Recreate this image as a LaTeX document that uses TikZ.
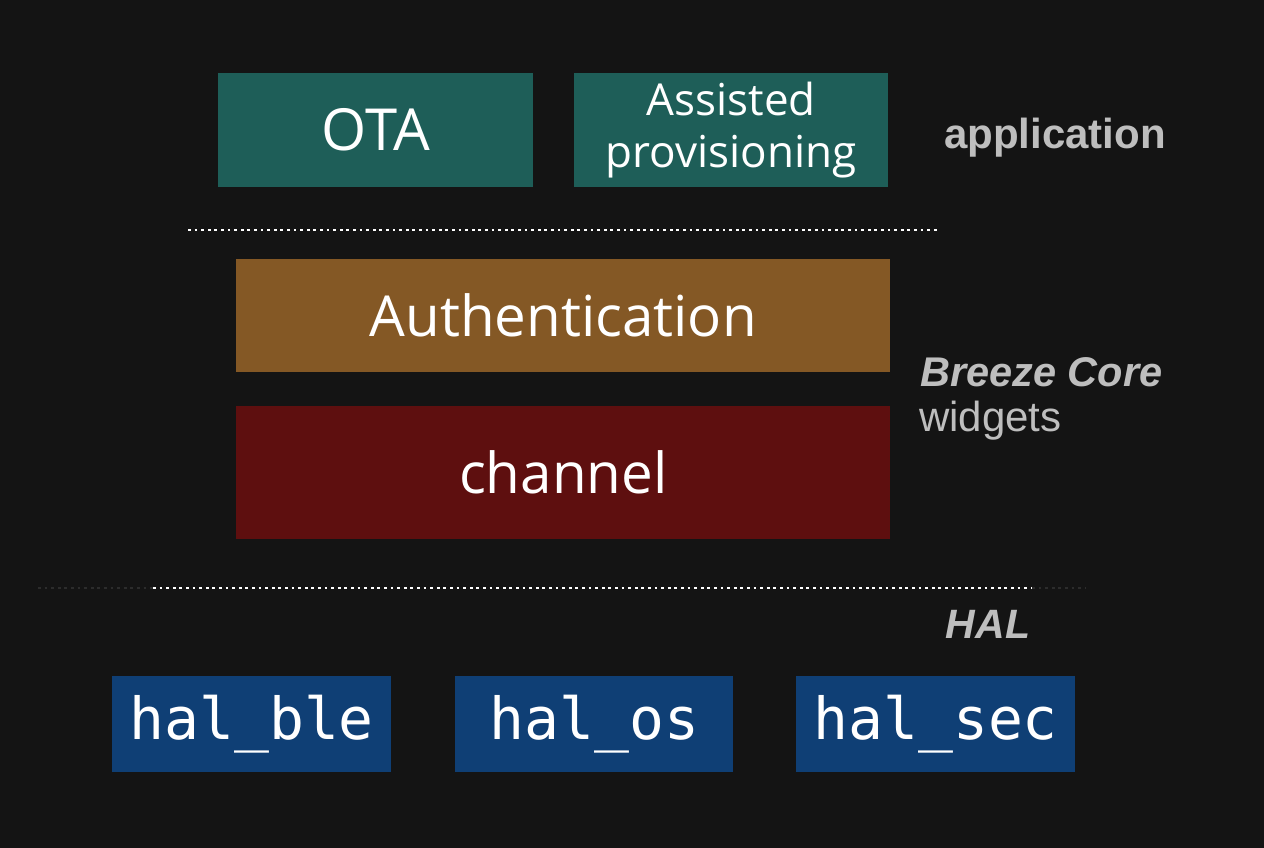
\documentclass[tikz,border=0pt]{standalone}
\usepackage{fontspec}
\setmainfont{Open Sans}
\newfontfamily\labfont{Liberation Sans}
\newfontfamily\monofont{DejaVu Sans Mono}
\definecolor{bgc}{HTML}{141414}
\definecolor{teal}{HTML}{1E5E58}
\definecolor{brownbox}{HTML}{845825}
\definecolor{redbox}{HTML}{5E0F0F}
\definecolor{bluebox}{HTML}{0F3F75}
\definecolor{labgray}{HTML}{BEBEBE}
\definecolor{faintdot}{HTML}{2C2C2C}
\begin{document}
\begin{tikzpicture}[x=1pt,y=-1pt,
  box/.style={anchor=north west,inner sep=0pt,text=white,align=center},
  dotline/.style={white,line width=2.8pt,dash pattern=on 2.8pt off 3.8pt},
  faintline/.style={faintdot,line width=2.8pt,dash pattern=on 2.8pt off 3.8pt},
  lab/.style={text=labgray,inner sep=0pt}]
\fill[bgc] (0,0) rectangle (1264,848);
\useasboundingbox (0,0) rectangle (1264,848);
% application layer
\node[box,fill=teal,minimum width=315pt,minimum height=114pt,font=\fontsize{58}{64}\selectfont] (ota) at (218,73) {OTA};
\node[box,fill=teal,minimum width=314pt,minimum height=114pt,font=\fontsize{44}{52}\selectfont] (ap) at (574,73) {Assisted\\provisioning};
\node[lab,font=\labfont\bfseries\fontsize{42}{46}\selectfont] (application) at (1055,138) {application};
% separator 1
\coordinate (s1a) at (188,230);
\coordinate (s1b) at (938,230);
\draw[dotline] (s1a) -- (s1b);
% core
\node[box,fill=brownbox,minimum width=654pt,minimum height=113pt,font=\fontsize{56.5}{62}\selectfont] (auth) at (236,259) {Authentication};
\node[box,fill=redbox,minimum width=654pt,minimum height=133pt,font=\fontsize{56.5}{62}\selectfont] (chan) at (236,406) {channel};
\node[lab,anchor=west,font=\labfont\bfseries\itshape\fontsize{41.5}{46}\selectfont] (breeze) at (920,372) {Breeze Core};
\node[lab,anchor=west,font=\labfont\fontsize{42}{46}\selectfont] (widgets) at (919,421) {widgets};
% separator 2
\coordinate (s2f) at (38,588);
\coordinate (s2a) at (153,588);
\coordinate (s2b) at (1032,588);
\coordinate (s2g) at (1085,588);
\draw[faintline] (s2f) -- (s2a);
\draw[faintline] (s2b) -- (s2g);
\draw[dotline] (s2a) -- (s2b);
\node[lab,font=\labfont\bfseries\itshape\fontsize{41}{46}\selectfont] (hal) at (988,624) {HAL};
% HAL boxes
\node[box,fill=bluebox,minimum width=279pt,minimum height=96pt,font=\monofont\fontsize{58}{64}\selectfont] (ble) at (112,676) {hal\_ble};
\node[box,fill=bluebox,minimum width=278pt,minimum height=96pt,font=\monofont\fontsize{58}{64}\selectfont] (os) at (455,676) {hal\_os};
\node[box,fill=bluebox,minimum width=279pt,minimum height=96pt,font=\monofont\fontsize{58}{64}\selectfont] (sec) at (796,676) {hal\_sec};
\end{tikzpicture}
\end{document}
